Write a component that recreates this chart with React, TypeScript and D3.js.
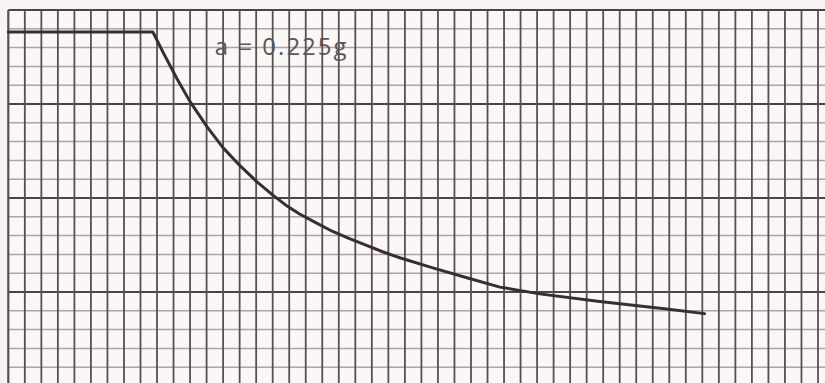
import React from "react";
import * as d3 from "d3";

// spectrum curve (x = grid columns, y = grid rows above the bottom edge)
const curveX = [0, 8.75, 9.4, 10.2, 10.99, 12.02, 12.99, 14.02, 15.05, 16.01, 16.8, 17.63, 18.66, 19.63, 20.65, 21.68, 22.65, 23.69, 25.69, 27.75, 29.75, 32.16, 35.79, 39.84, 42.14];
const curveY = [18.83, 18.83, 17.69, 16.36, 15.14, 13.8, 12.68, 11.72, 10.86, 10.15, 9.62, 9.15, 8.66, 8.22, 7.84, 7.48, 7.14, 6.82, 6.28, 5.76, 5.26, 4.9, 4.5, 4.1, 3.85];

const label = "a = 0.225g";
const labelAt = {col: 12.5, row: 17.6};

const W = 825;
const H = 383;
const cols = 49;
const rows = 20;

const App: React.FC = () => {
	const x = d3.scaleLinear().domain([0, cols]).range([8.3, 818]);
	const y = d3.scaleLinear().domain([rows, 0]).range([10, 386]);

	const points = curveX.map((c, i) => ({c, r: curveY[i]}));
	// hand drawn line: straight pieces, sharp corner at the end of the plateau
	const line = d3
		.line<{c: number; r: number}>()
		.x((d) => x(d.c))
		.y((d) => y(d.r));

	const vLines = d3.range(0, cols + 1);
	const hLines = d3.range(0, rows).filter((r) => y(rows - r) <= H);

	return (
		<svg width={W} height={H} style={{position: "absolute", left: 0, top: 0, background: "#f6f4f4"}}>
			<rect x={x(0)} y={y(rows)} width={W - x(0)} height={H - y(rows)} fill="#fbf7f7" />

			{/* horizontal rules: light minor, dark every 5th */}
			{hLines.map((r) => {
				const major = r % 5 === 0;
				return (
					<line
						key={"h" + r}
						x1={x(0)}
						x2={W}
						y1={y(rows - r)}
						y2={y(rows - r)}
						stroke={major ? "#4a4446" : "#aea4a7"}
						strokeWidth={major ? 2 : 1.5}
					/>
				);
			})}

			{/* vertical rules */}
			{vLines.map((c) => (
				<line
					key={"v" + c}
					x1={x(c)}
					x2={x(c)}
					y1={y(rows)}
					y2={H}
					stroke="#545056"
					strokeWidth={c === 0 ? 2.2 : 1.8}
				/>
			))}

			<path d={line(points) || ""} fill="none" stroke="#3b2c30" strokeWidth={3} strokeLinejoin="round" strokeLinecap="round" />

			<text
				x={x(labelAt.col)}
				y={y(labelAt.row)}
				fontFamily="'Open Sans', Lato, sans-serif"
				fontSize={24}
				letterSpacing={2}
				fill="#5a5658"
			>
				{label}
			</text>
		</svg>
	);
};

export default App;
